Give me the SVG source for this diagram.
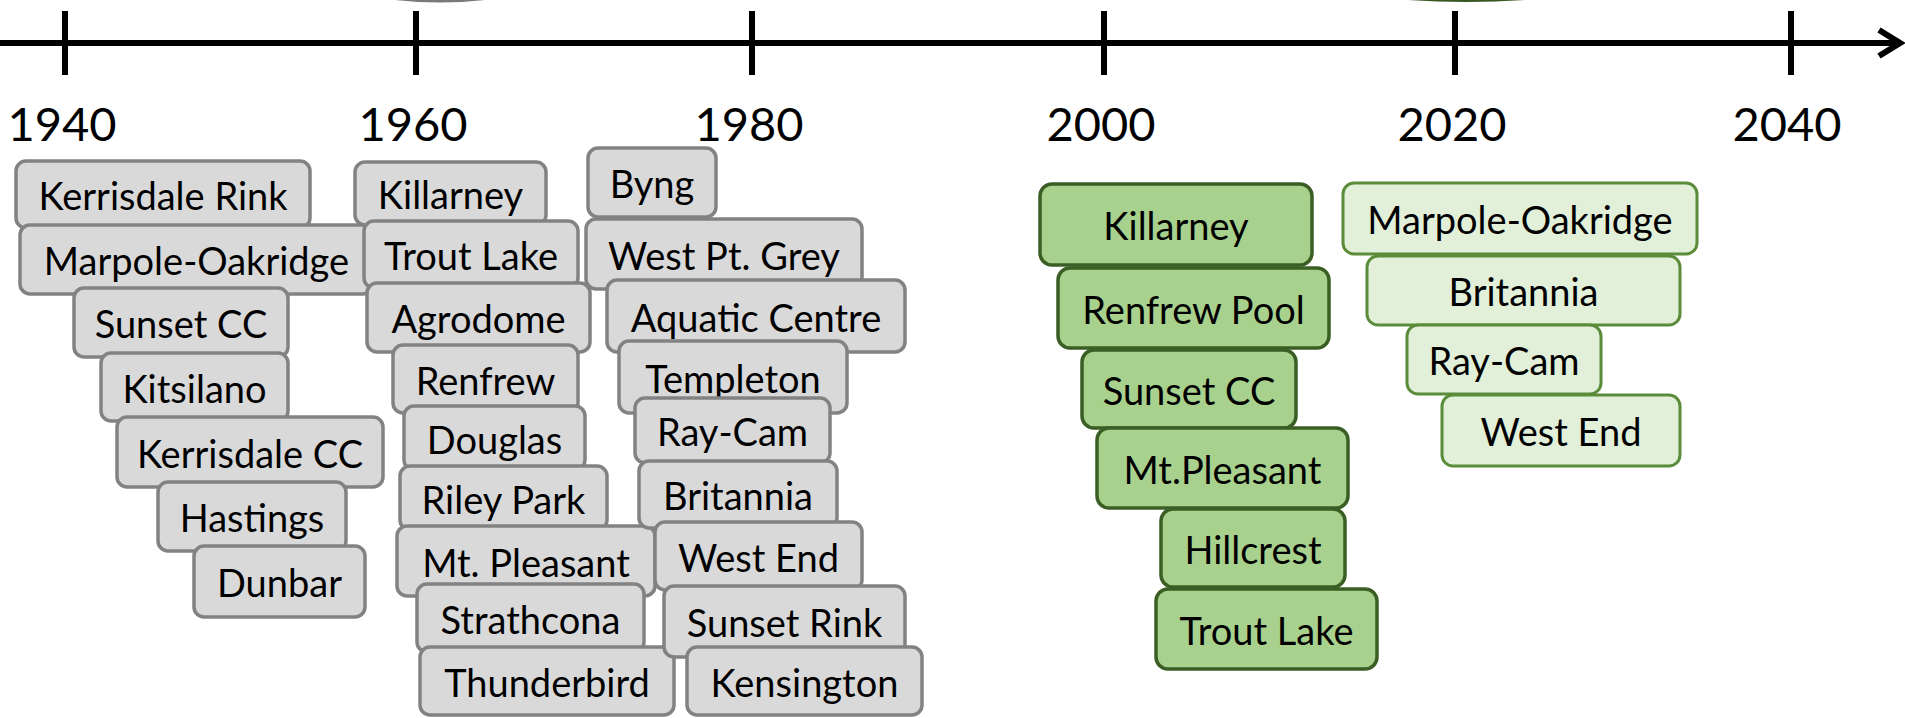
<svg xmlns="http://www.w3.org/2000/svg" width="1905" height="718" viewBox="0 0 1905 718">
<style>
.t{font-family:Lato,"Liberation Sans",sans-serif;font-size:38px;fill:#000;text-anchor:middle}
.yr{font-family:Lato,"Liberation Sans",sans-serif;font-size:47px;fill:#000;text-anchor:middle}
.g rect{fill:#d9d9d9;stroke:#828282;stroke-width:3.5}
.d rect{fill:#a9d18e;stroke:#3a5e24;stroke-width:3.5}
.l rect{fill:#e2f0d9;stroke:#5b8c3a;stroke-width:3}
.ax{stroke:#000;stroke-width:6;fill:none}
</style>
<rect width="1905" height="718" fill="#fff"/>
<path d="M395,0 Q440,5 485,0 Z" fill="#7a7a7a"/>
<path d="M1408,0 Q1466,4 1525,0 Z" fill="#385723"/>
<g id="connectors">
<line class="ax" x1="0" y1="43" x2="1899" y2="43"/>
<polyline class="ax" points="1879,30 1900,43 1879,56" stroke-linejoin="miter"/>
<line class="ax" x1="65" y1="11" x2="65" y2="75"/>
<line class="ax" x1="416" y1="11" x2="416" y2="75"/>
<line class="ax" x1="752" y1="11" x2="752" y2="75"/>
<line class="ax" x1="1104" y1="11" x2="1104" y2="75"/>
<line class="ax" x1="1455" y1="11" x2="1455" y2="75"/>
<line class="ax" x1="1791" y1="11" x2="1791" y2="75"/>
</g>
<g id="years">
<text class="yr" x="62" y="141">1940</text>
<text class="yr" x="413" y="141">1960</text>
<text class="yr" x="749" y="141">1980</text>
<text class="yr" x="1101" y="141">2000</text>
<text class="yr" x="1452" y="141">2020</text>
<text class="yr" x="1787" y="141">2040</text>
</g>
<g id="n1" class="g"><rect x="16" y="161" width="294" height="67" rx="10"/><text class="t" x="163" y="210">Kerrisdale Rink</text></g>
<g id="n2" class="g"><rect x="20" y="225" width="353" height="69" rx="10"/><text class="t" x="196.5" y="275">Marpole-Oakridge</text></g>
<g id="n3" class="g"><rect x="74" y="288" width="214" height="69" rx="10"/><text class="t" x="181" y="338">Sunset CC</text></g>
<g id="n4" class="g"><rect x="101" y="353" width="187" height="68" rx="10"/><text class="t" x="194.5" y="402.5">Kitsilano</text></g>
<g id="n5" class="g"><rect x="117" y="417" width="266" height="70" rx="10"/><text class="t" x="250" y="467.5">Kerrisdale CC</text></g>
<g id="n6" class="g"><rect x="158" y="482" width="188" height="69" rx="10"/><text class="t" x="252" y="532">Hastings</text></g>
<g id="n7" class="g"><rect x="194" y="546" width="171" height="71" rx="10"/><text class="t" x="279.5" y="597">Dunbar</text></g>
<g id="n8" class="g"><rect x="355" y="162" width="191" height="63" rx="10"/><text class="t" x="450.5" y="209">Killarney</text></g>
<g id="n9" class="g"><rect x="364" y="221" width="214" height="67" rx="10"/><text class="t" x="471" y="270">Trout Lake</text></g>
<g id="n10" class="g"><rect x="367" y="283" width="223" height="69" rx="10"/><text class="t" x="478.5" y="333">Agrodome</text></g>
<g id="n11" class="g"><rect x="393" y="345" width="185" height="68" rx="10"/><text class="t" x="485.5" y="394.5">Renfrew</text></g>
<g id="n12" class="g"><rect x="404" y="406" width="181" height="64" rx="10"/><text class="t" x="494.5" y="453.5">Douglas</text></g>
<g id="n13" class="g"><rect x="400" y="466" width="207" height="64" rx="10"/><text class="t" x="503.5" y="513.5">Riley Park</text></g>
<g id="n14" class="g"><rect x="397" y="526" width="258" height="70" rx="10"/><text class="t" x="526" y="576.5">Mt. Pleasant</text></g>
<g id="n15" class="g"><rect x="417" y="584" width="227" height="68" rx="10"/><text class="t" x="530.5" y="633.5">Strathcona</text></g>
<g id="n16" class="g"><rect x="420" y="647" width="254" height="68" rx="10"/><text class="t" x="547" y="696.5">Thunderbird</text></g>
<g id="n17" class="g"><rect x="588" y="148" width="128" height="69" rx="10"/><text class="t" x="652" y="198">Byng</text></g>
<g id="n18" class="g"><rect x="586" y="219" width="276" height="70" rx="10"/><text class="t" x="724" y="269.5">West Pt. Grey</text></g>
<g id="n19" class="g"><rect x="607" y="280" width="298" height="72" rx="10"/><text class="t" x="756" y="331.5">Aquatic Centre</text></g>
<g id="n20" class="g"><rect x="619" y="341" width="228" height="72" rx="10"/><text class="t" x="733" y="392.5">Templeton</text></g>
<g id="n21" class="g"><rect x="635" y="398" width="195" height="65" rx="10"/><text class="t" x="732.5" y="446">Ray-Cam</text></g>
<g id="n22" class="g"><rect x="639" y="461" width="198" height="67" rx="10"/><text class="t" x="738" y="510">Britannia</text></g>
<g id="n23" class="g"><rect x="655" y="522" width="207" height="68" rx="10"/><text class="t" x="758.5" y="571.5">West End</text></g>
<g id="n24" class="g"><rect x="664" y="586" width="241" height="71" rx="10"/><text class="t" x="784.5" y="637">Sunset Rink</text></g>
<g id="n25" class="g"><rect x="687" y="647" width="235" height="68" rx="10"/><text class="t" x="804.5" y="696.5">Kensington</text></g>
<g id="n26" class="d"><rect x="1040" y="184" width="272" height="81" rx="12"/><text class="t" x="1176" y="240">Killarney</text></g>
<g id="n27" class="d"><rect x="1058" y="268" width="271" height="80" rx="12"/><text class="t" x="1193.5" y="323.5">Renfrew Pool</text></g>
<g id="n28" class="d"><rect x="1082" y="350" width="214" height="78" rx="12"/><text class="t" x="1189" y="404.5">Sunset CC</text></g>
<g id="n29" class="d"><rect x="1097" y="428" width="251" height="80" rx="12"/><text class="t" x="1222.5" y="483.5">Mt.Pleasant</text></g>
<g id="n30" class="d"><rect x="1161" y="509" width="184" height="78" rx="12"/><text class="t" x="1253" y="563.5">Hillcrest</text></g>
<g id="n31" class="d"><rect x="1156" y="589" width="221" height="80" rx="12"/><text class="t" x="1266.5" y="644.5">Trout Lake</text></g>
<g id="n32" class="l"><rect x="1343" y="183" width="354" height="71" rx="11"/><text class="t" x="1520" y="234">Marpole-Oakridge</text></g>
<g id="n33" class="l"><rect x="1367" y="256" width="313" height="69" rx="11"/><text class="t" x="1523.5" y="306">Britannia</text></g>
<g id="n34" class="l"><rect x="1407" y="325" width="194" height="69" rx="11"/><text class="t" x="1504" y="375">Ray-Cam</text></g>
<g id="n35" class="l"><rect x="1442" y="395" width="238" height="71" rx="11"/><text class="t" x="1561" y="446">West End</text></g>
</svg>
